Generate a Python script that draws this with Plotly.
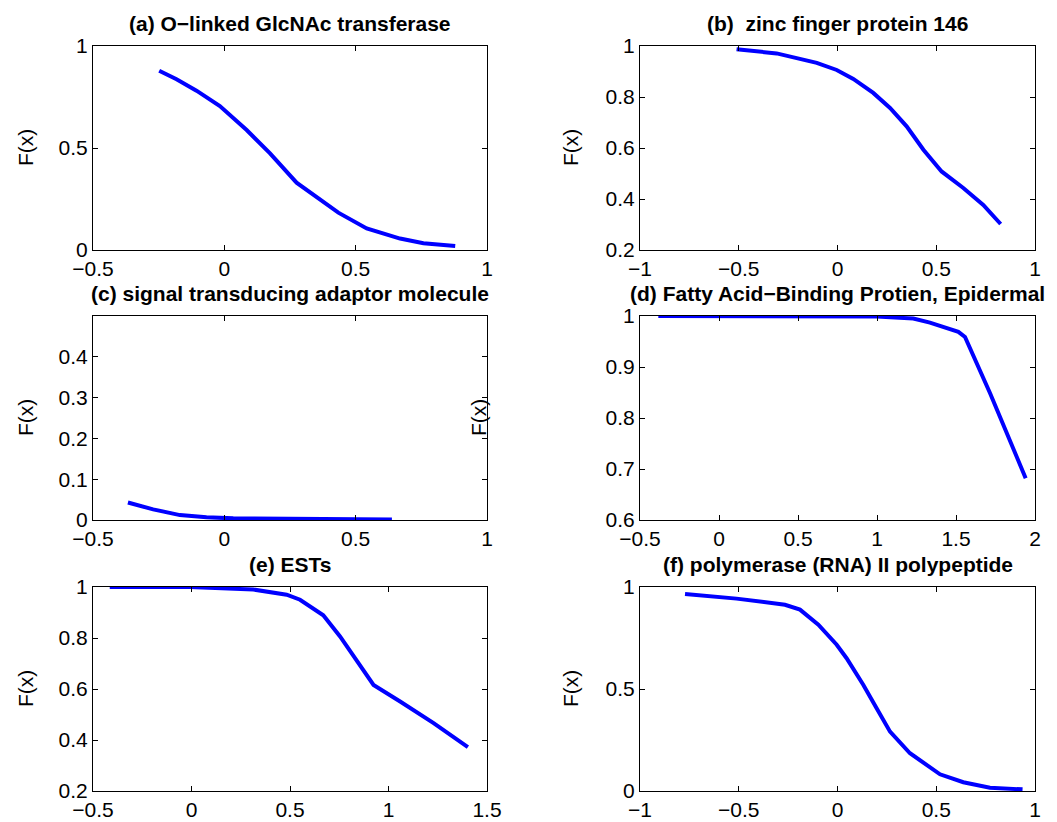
import plotly.graph_objects as go

# ---- data ----
a_x = [-0.248, -0.182, -0.106, -0.017, 0.085, 0.174, 0.275, 0.352, 0.434, 0.542, 0.669, 0.758, 0.879]
a_y = [0.879, 0.837, 0.781, 0.706, 0.588, 0.474, 0.330, 0.258, 0.183, 0.106, 0.056, 0.033, 0.020]

b_x = [-0.511, -0.308, -0.105, -0.004, 0.080, 0.181, 0.266, 0.350, 0.435, 0.527, 0.637, 0.738, 0.826]
b_y = [0.987, 0.971, 0.934, 0.906, 0.871, 0.816, 0.757, 0.685, 0.593, 0.508, 0.443, 0.377, 0.302]

c_x = [-0.367, -0.271, -0.169, -0.068, 0.034, 0.225, 0.415, 0.638]
c_y = [0.043, 0.026, 0.012, 0.0065, 0.004, 0.0025, 0.0015, 0.001]

d_x = [-0.384, 0.49, 0.998, 1.23, 1.335, 1.515, 1.557, 1.715, 1.941]
d_y = [1.0, 1.0, 0.999, 0.995, 0.987, 0.969, 0.959, 0.849, 0.682]

e_x = [-0.415, -0.008, 0.314, 0.483, 0.551, 0.669, 0.754, 0.839, 0.924, 1.059, 1.229, 1.403]
e_y = [1.0, 1.0, 0.990, 0.970, 0.950, 0.889, 0.806, 0.708, 0.616, 0.551, 0.466, 0.372]

f_x = [-0.772, -0.511, -0.266, -0.190, -0.097, -0.004, 0.046, 0.131, 0.198, 0.266, 0.367, 0.519, 0.637, 0.772, 0.937]
f_y = [0.966, 0.943, 0.913, 0.889, 0.815, 0.717, 0.651, 0.520, 0.406, 0.291, 0.185, 0.082, 0.043, 0.016, 0.008]

titles = [
    "(a) O\u2212linked GlcNAc transferase",
    "(b)\u00a0 zinc finger protein 146",
    "(c) signal transducing adaptor molecule",
    "(d) Fatty Acid\u2212Binding Protien, Epidermal",
    "(e) ESTs",
    "(f) polymerase (RNA) II polypeptide",
]
y_label = "F(x)"

x_ranges = [[-0.5, 1], [-1, 1], [-0.5, 1], [-0.5, 2], [-0.5, 1.5], [-1, 1]]
y_ranges = [[0, 1], [0.2, 1], [0, 0.5], [0.6, 1], [0.2, 1], [0, 1]]

x_tickvals = [
    [-0.5, 0, 0.5, 1],
    [-1, -0.5, 0, 0.5, 1],
    [-0.5, 0, 0.5, 1],
    [-0.5, 0, 0.5, 1, 1.5, 2],
    [-0.5, 0, 0.5, 1, 1.5],
    [-1, -0.5, 0, 0.5, 1],
]
y_tickvals = [
    [0, 0.5, 1],
    [0.2, 0.4, 0.6, 0.8, 1],
    [0, 0.1, 0.2, 0.3, 0.4],
    [0.6, 0.7, 0.8, 0.9, 1],
    [0.2, 0.4, 0.6, 0.8, 1],
    [0, 0.5, 1],
]


def fmt(v):
    s = ("%g" % v)
    return s.replace("-", "\u2212")


series = [(a_x, a_y), (b_x, b_y), (c_x, c_y), (d_x, d_y), (e_x, e_y), (f_x, f_y)]

W, H = 1057, 822
col_px = [(93, 487), (640, 1035)]
row_px = [(46, 250), (316, 520), (587, 791)]
ylabel_x_px = [25, 570, 25, 478, 25, 570]

FONT = "Liberation Sans, Arial, Helvetica, sans-serif"
FS = 21

fig = go.Figure()
annotations = []
layout = {}
for i, (xs, ys) in enumerate(series):
    r, c = divmod(i, 2)
    n = "" if i == 0 else str(i + 1)
    fig.add_trace(go.Scatter(x=xs, y=ys, mode="lines",
                             line=dict(color="#0000ff", width=4),
                             xaxis="x" + n, yaxis="y" + n, showlegend=False))
    x0, x1 = col_px[c]
    y0, y1 = row_px[r]
    common = dict(showline=True, linecolor="black", linewidth=1, mirror="ticks",
                  ticks="inside", ticklen=5, tickcolor="black", showgrid=False,
                  zeroline=False, automargin=False,
                  tickfont=dict(family=FONT, size=FS, color="black"),
                  tickmode="array")
    layout["xaxis" + n] = dict(common, domain=[x0 / W, x1 / W], range=x_ranges[i],
                               tickvals=x_tickvals[i], ticktext=[fmt(v) for v in x_tickvals[i]],
                               anchor="y" + n)
    layout["yaxis" + n] = dict(common, domain=[1 - y1 / H, 1 - y0 / H], range=y_ranges[i],
                               tickvals=y_tickvals[i], ticktext=[fmt(v) for v in y_tickvals[i]],
                               anchor="x" + n)
    annotations.append(dict(text="<b>%s</b>" % titles[i], xref="paper", yref="paper",
                            x=(x0 + x1) / 2 / W, y=1 - (y0 - 9) / H, xanchor="center",
                            yanchor="bottom", showarrow=False,
                            font=dict(family=FONT, size=FS, color="black")))
    annotations.append(dict(text=y_label, xref="paper", yref="paper",
                            x=ylabel_x_px[i] / W, y=1 - (y0 + y1) / 2 / H, xanchor="center",
                            yanchor="middle", textangle=-90, showarrow=False,
                            font=dict(family=FONT, size=FS, color="black")))

fig.update_layout(**layout)
fig.update_layout(width=W, height=H, margin=dict(l=0, r=0, t=0, b=0),
                  paper_bgcolor="white", plot_bgcolor="white",
                  annotations=annotations, showlegend=False)

fig.write_html("out.html")
